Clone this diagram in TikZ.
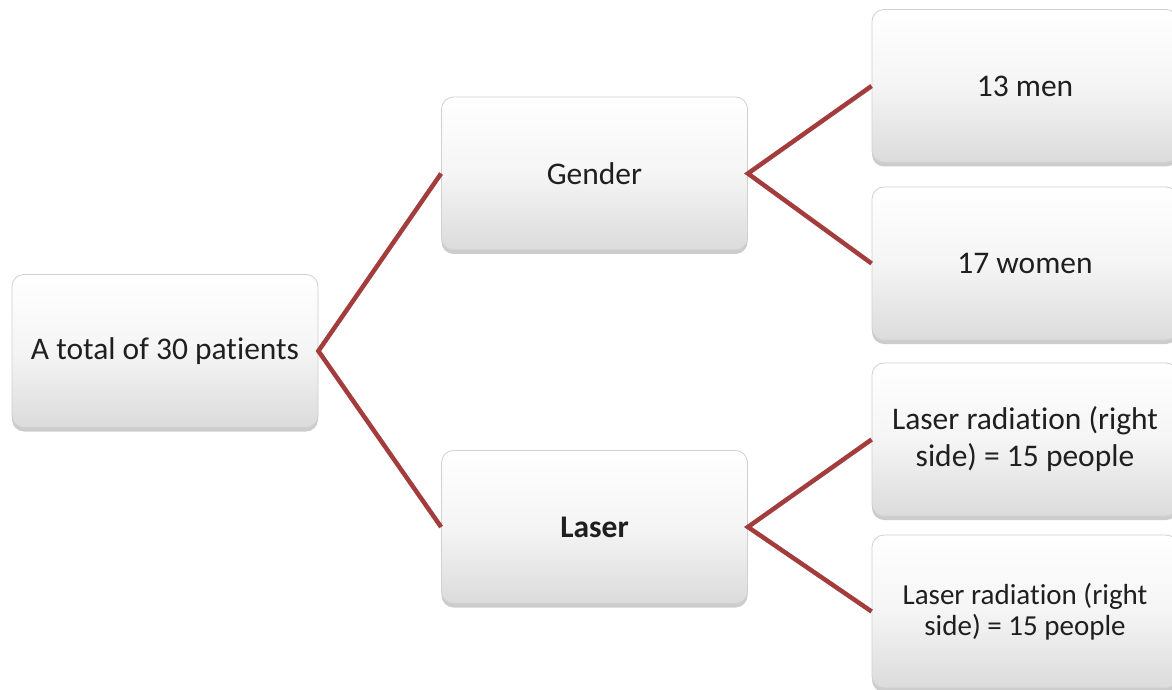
\documentclass[tikz,border=0pt]{standalone}
\usepackage{fontspec}
\setmainfont{Carlito}[Ligatures={NoCommon}]
\usetikzlibrary{shadows}
\definecolor{linkred}{HTML}{A33C3C}
\definecolor{boxedge}{HTML}{D0D0D0}
\begin{document}
\begin{tikzpicture}[x=1pt,y=1pt,
  box/.style={rounded corners=12pt, draw=boxedge, line width=0.8pt,
    top color=white, bottom color=black!14, middle color=white!96!black,
    minimum width=306pt, minimum height=153pt, align=center,
    drop shadow={shadow xshift=0pt, shadow yshift=-4pt, opacity=0.4},
    font=\fontsize{31.5}{37}\selectfont, text=black!88},
  smallbox/.style={box, font=\fontsize{29}{31}\selectfont},
  link/.style={draw=linkred, line width=4.5pt}]
\useasboundingbox (0,0) rectangle (1172,689);
\node[box] (root) at (165,338) {A total of 30 patients};
\node[box] (gender) at (594.5,515.5) {Gender};
\node[box] (laser) at (594.5,162) {\textbf{Laser}};
\node[box] (men) at (1025,603) {13 men};
\node[box] (women) at (1025,425.5) {17 women};
\node[box] (lr1) at (1025,249.5) {Laser radiation (right\\side) = 15 people};
\node[smallbox] (lr2) at (1025,77.5) {Laser radiation (right\\side) = 15 people};
\draw[link] (gender.west) -- (root.east) -- (laser.west);
\draw[link] (men.west) -- (gender.east) -- (women.west);
\draw[link] (lr1.west) -- (laser.east) -- (lr2.west);
\end{tikzpicture}
\end{document}
